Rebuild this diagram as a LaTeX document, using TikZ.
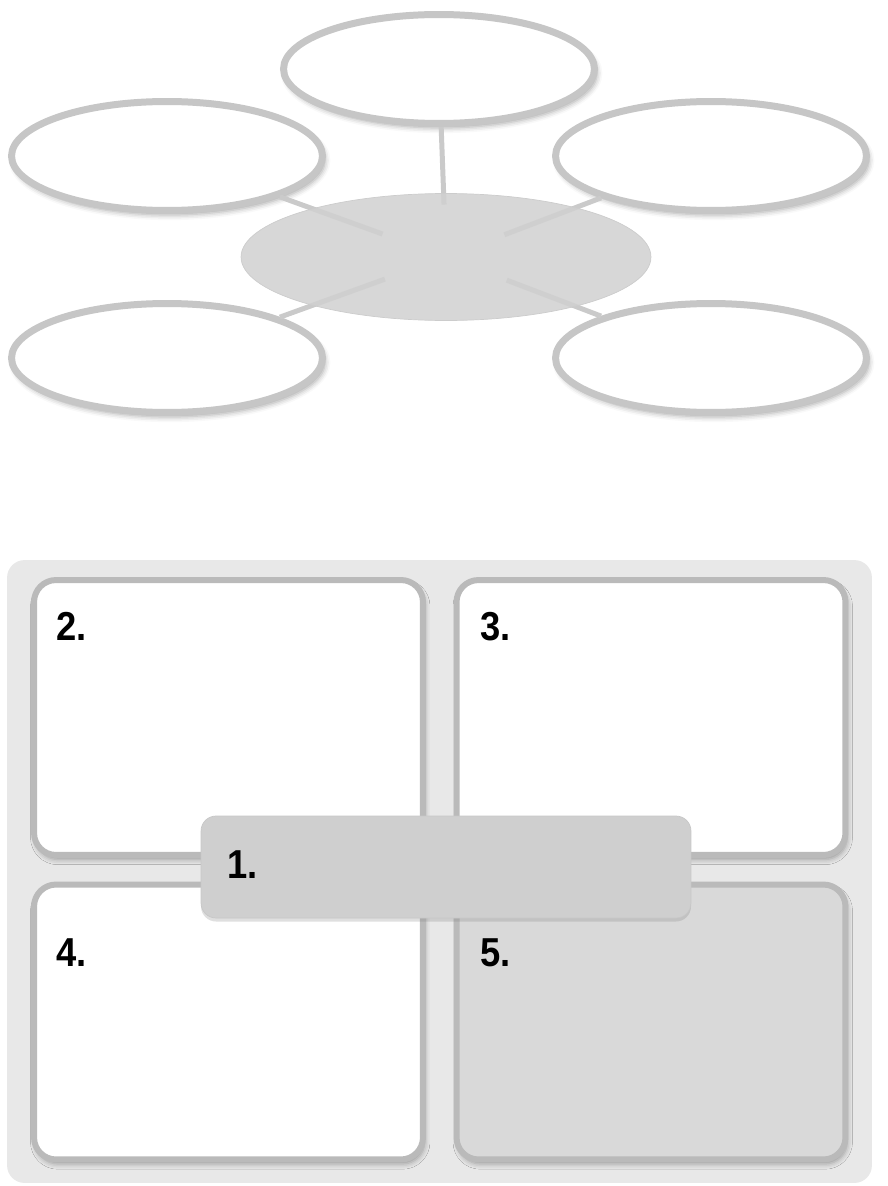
\documentclass[tikz,border=0pt]{standalone}
\usepackage{fontspec}
\newfontfamily\numfont[FakeStretch=0.9]{Liberation Sans}
\usepackage{tikz}
\usetikzlibrary{shapes.geometric, shadows, shadows.blur}
\definecolor{ringgray}{HTML}{C6C6C6}
\definecolor{hubgray}{HTML}{D0D0D0}
\definecolor{linkgray}{HTML}{CACACA}
\definecolor{panelbg}{HTML}{E8E8E8}
\definecolor{cardedge}{HTML}{BABABA}
\definecolor{cardshade}{HTML}{D9D9D9}
\definecolor{barfill}{HTML}{CFCFCF}

\begin{document}
\begin{tikzpicture}[
  x=0.02cm, y=-0.02cm,
  bubble/.style={ellipse, draw=ringgray, fill=white, line width=0.14cm, minimum width=6.22cm, minimum height=2.18cm, inner sep=0pt, blur shadow={shadow xshift=1.5pt, shadow yshift=-2.5pt, shadow opacity=35, shadow blur radius=3pt}},
  hub/.style={ellipse, fill=hubgray, fill opacity=0.85, draw=black!20, line width=0.4pt, minimum width=8.2cm, minimum height=2.54cm, inner sep=0pt},
  link/.style={linkgray, line width=0.1cm},
  panel/.style={fill=panelbg, rounded corners=0.35cm, minimum width=17.3cm, minimum height=12.46cm, inner sep=0pt},
  card/.style={draw=cardedge, fill=white, line width=0.12cm, rounded corners=0.44cm, minimum width=7.78cm, minimum height=5.5cm, inner sep=0pt, blur shadow={shadow xshift=1pt, shadow yshift=-2.5pt, shadow opacity=35, shadow blur radius=3pt}},
  bar/.style={fill=barfill, draw=black!22, line width=0.4pt, rounded corners=0.3cm, minimum width=9.8cm, minimum height=2.04cm, inner sep=0pt, drop shadow={shadow xshift=0pt, shadow yshift=-2pt, opacity=0.25}},
  num/.style={font=\numfont\bfseries\fontsize{23}{27}\selectfont, anchor=base west, inner sep=0pt}
]
\useasboundingbox (0,0) rectangle (888,1186);

% Cluster: five bubbles round a hub
\coordinate (hubc) at (446,257);
\node[bubble] (top) at (439,69) {};
\node[bubble] (upl) at (167,156) {};
\node[bubble] (upr) at (711,156) {};
\node[bubble] (lowl) at (167,358) {};
\node[bubble] (lowr) at (711,358) {};

\foreach \b/\s in {top/1.05cm, upl/1.35cm, upr/1.25cm, lowl/1.3cm, lowr/1.3cm}
  \draw[link, shorten <=\s] (hubc) -- (\b);

\node[hub] (hub) at (hubc) {};

% Grid: panel, four cards and the bar across them
\node[panel] (panel) at (439.5,871.5) {};
\node[card] (c2) at (228.5,717.5) {};
\node[card] (c3) at (651,717.5) {};
\node[card] (c4) at (228.5,1022) {};
\node[card, fill=cardshade] (c5) at (651,1022) {};
\node[bar] (c1) at (446,867) {};

\node[num] (n1) at (227,878) {1.};
\node[num] (n2) at (56,640) {2.};
\node[num] (n3) at (480,640) {3.};
\node[num] (n4) at (56,966) {4.};
\node[num] (n5) at (480,966) {5.};

\end{tikzpicture}
\end{document}
